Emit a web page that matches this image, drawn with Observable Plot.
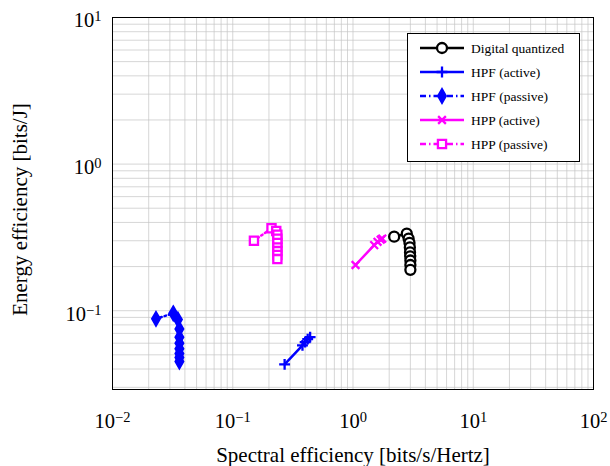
<!DOCTYPE html>
<html><head><meta charset="utf-8">
<script src="https://cdn.jsdelivr.net/npm/d3@7"></script>
<script src="https://cdn.jsdelivr.net/npm/@observablehq/plot@0.6"></script>
<style>body{margin:0;background:#fff}</style>
</head><body><div id="chart"></div>
<script>
// ---- data ----
const seriesNames = ["Digital quantized","HPF (active)","HPF (passive)","HPP (active)","HPP (passive)"];
const digitalX = [2.2, 2.8, 2.9, 2.95, 2.97, 2.98, 2.99, 3.0, 3.0, 3.0];
const digitalY = [0.32, 0.335, 0.31, 0.29, 0.27, 0.25, 0.235, 0.22, 0.205, 0.19];
const hpfActiveX = [0.27, 0.38, 0.40, 0.42, 0.44];
const hpfActiveY = [0.043, 0.058, 0.061, 0.064, 0.066];
const hpfPassiveX = [0.023, 0.032, 0.035, 0.036, 0.036, 0.036, 0.036, 0.036, 0.036, 0.036];
const hpfPassiveY = [0.088, 0.096, 0.087, 0.075, 0.066, 0.060, 0.055, 0.051, 0.048, 0.045];
const hppActiveX = [1.05, 1.5, 1.6, 1.7, 1.75];
const hppActiveY = [0.205, 0.28, 0.295, 0.305, 0.31];
const hppPassiveX = [0.15, 0.21, 0.23, 0.235, 0.235, 0.235, 0.235, 0.235, 0.235, 0.235];
const hppPassiveY = [0.30, 0.365, 0.35, 0.33, 0.31, 0.29, 0.27, 0.255, 0.24, 0.225];
const xTicks = [0.01, 0.1, 1, 10, 100];
const yTicks = [0.1, 1, 10];

// ---- styles ----
const FONT = "'Liberation Serif', 'DejaVu Serif', serif";
const styles = [
  {color:"#000000", dash:null, symbol:"circle", fill:"white", r:5},
  {color:"#0000ff", dash:null, symbol:"plus", fill:"none", r:3.6},
  {color:"#0000ff", dash:"6 3 1.5 3", symbol:"diamond", fill:"#0000ff", r:4},
  {color:"#ff00ff", dash:null, symbol:"times", fill:"none", r:3.6},
  {color:"#ff00ff", dash:"6 3 1.5 3", symbol:"square", fill:"white", r:4.6}
];
const xs = [digitalX, hpfActiveX, hpfPassiveX, hppActiveX, hppPassiveX];
const ys = [digitalY, hpfActiveY, hpfPassiveY, hppActiveY, hppPassiveY];
const series = seriesNames.map((name,i)=>xs[i].map((x,j)=>({name, x, y: ys[i][j]})));

// grid values
const gridX = [], gridY = [];
for (let e=-2;e<2;e++) for (let k=1;k<10;k++) gridX.push(k*10**e);
gridX.push(100);
for (let e=-2;e<1;e++) for (let k=1;k<10;k++) { const v=k*10**e; if (v>=0.029) gridY.push(v); }
gridY.push(10);

const marks = [
  Plot.ruleX(gridX, {stroke:"#c4c4c4", strokeWidth:0.7}),
  Plot.ruleY(gridY, {stroke:"#c4c4c4", strokeWidth:0.7}),
  Plot.frame({stroke:"#000", strokeWidth:1}),
  Plot.axisX({ticks:xTicks, tickSize:0, tickPadding:24, tickFormat:d=>"10^"+Math.round(Math.log10(d)),
    label:"Spectral efficiency [bits/s/Hertz]", labelAnchor:"center", labelArrow:"none", labelOffset:72}),
  Plot.axisY({ticks:yTicks, tickSize:0, tickPadding:11, tickFormat:d=>"10^"+Math.round(Math.log10(d)),
    label:"Energy efficiency [bits/J]", labelAnchor:"center", labelArrow:"none", labelOffset:100}),
];
series.forEach((data,i)=>{
  const s = styles[i];
  marks.push(Plot.line(data, {x:"x", y:"y", stroke:s.color, strokeWidth:2.5, strokeDasharray:s.dash}));
});
series.forEach((data,i)=>{
  const s = styles[i];
  marks.push(Plot.dot(data, {x:"x", y:"y", symbol:()=>s.symbol, r:s.r, stroke:s.color, fill:s.fill, strokeWidth:2.3}));
});

const chart = Plot.plot({
  width:610, height:466,
  marginLeft:112, marginRight:17, marginTop:17, marginBottom:77,
  style:{fontFamily:FONT, fontSize:"16px", background:"white", color:"black"},
  x:{type:"log", domain:[0.01,100]},
  y:{type:"log", domain:[0.029,10]},
  symbol:{type:"identity"},
  marks
});
document.getElementById("chart").appendChild(chart);

// superscript tick labels
const svg = d3.select(chart.tagName === "svg" ? chart : chart.querySelector("svg"));
svg.selectAll("g[aria-label='y-axis tick label'] text").attr("dy","0.16em");
svg.selectAll("text").each(function(){
  const t = d3.select(this);
  const txt = this.textContent;
  if (/^10\^/.test(txt)) {
    const exp = txt.split("^")[1].replace("-", "\u2212");
    t.text(null).style("font-size","20.5px").style("font-family",FONT);
    t.append("tspan").text("10");
    t.append("tspan").attr("dy","-6").style("font-size","14.5px").text(exp);
  }
});
svg.selectAll("text").filter(function(){return /efficiency/.test(this.textContent);})
  .style("font-size","21px").style("font-family",FONT);
svg.selectAll("g[aria-label='y-axis label']").attr("transform", function(){
  const t = this.getAttribute("transform") || ""; return t + " translate(0,6)";
});

// legend
const lg = svg.append("g").attr("text-anchor","start");
lg.append("rect").attr("x",407.5).attr("y",33.5).attr("width",172).attr("height",128)
  .attr("fill","white").attr("stroke","black").attr("stroke-width",1);
const symMap = {circle:d3.symbolCircle, plus:d3.symbolPlus, diamond:d3.symbolDiamond, times:d3.symbolTimes, square:d3.symbolSquare};
seriesNames.forEach((name,i)=>{
  const s = styles[i];
  const yy = 48 + i*24;
  lg.append("line").attr("x1",420).attr("x2",464).attr("y1",yy).attr("y2",yy)
    .attr("stroke",s.color).attr("stroke-width",2.5).attr("stroke-dasharray", s.dash);
  lg.append("path").attr("d", d3.symbol(symMap[s.symbol], Math.PI*s.r*s.r)())
    .attr("transform",`translate(442,${yy})`).attr("fill",s.fill).attr("stroke",s.color).attr("stroke-width",2.3);
  lg.append("text").attr("x",471).attr("y",yy).attr("dy","0.35em").attr("text-anchor","start")
    .style("font-size","13.5px").style("font-family",FONT).text(name);
});
</script></body></html>
